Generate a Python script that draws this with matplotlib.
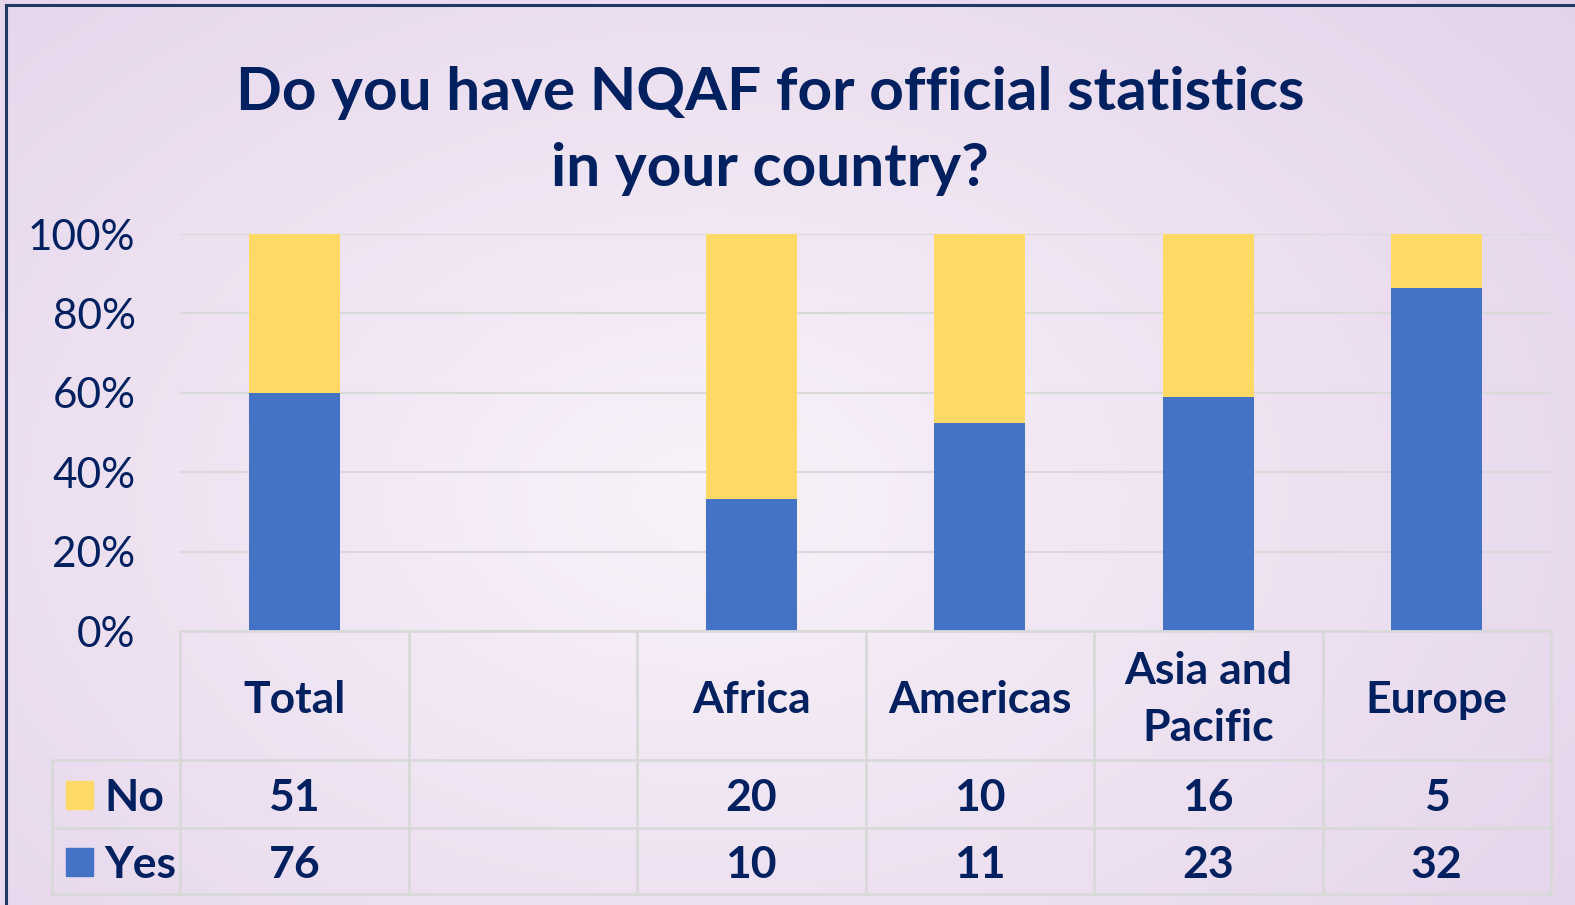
import numpy as np
import matplotlib
matplotlib.use('Agg')
from matplotlib import pyplot as plt
from matplotlib.lines import Line2D
from matplotlib.patches import Rectangle

# data
categories = ['Total', '', 'Africa', 'Americas', 'Asia and\nPacific', 'Europe']
no_counts = [51, None, 20, 10, 16, 5]
yes_counts = [76, None, 10, 11, 23, 32]
series_names = ['No', 'Yes']
y_ticks = [0, 20, 40, 60, 80, 100]

navy = '#002060'
yellow = '#FFD966'
blue = '#4472C4'
grid_c = '#D9D9D9'

plt.rcParams['font.family'] = ['Lato', 'DejaVu Sans']

W, H = 1575, 905
fig = plt.figure(figsize=(W / 100, H / 100), dpi=100)

# soft lavender background, lighter towards the middle
bg = fig.add_axes([0, 0, 1, 1], zorder=-10)
gx, gy = np.meshgrid(np.linspace(0, 1, 400), np.linspace(0, 1, 240))
r = np.sqrt(((gx - 0.45) / 0.75) ** 2 + ((gy - 0.55) / 0.9) ** 2)
r = np.clip(r, 0, 1)
c0 = np.array([0.975, 0.95, 0.98])
c1 = np.array([0.89, 0.82, 0.915])
img = c0 + (c1 - c0) * r[..., None]
bg.imshow(img, extent=[0, 1, 0, 1], aspect='auto', origin='upper')
bg.axis('off')

# frame lines (top and left)
fig.add_artist(Line2D([6 / W, 1], [1 - 5 / H, 1 - 5 / H], color='#1F3864', lw=2.2))
fig.add_artist(Line2D([6 / W, 6 / W], [0, 1 - 5 / H], color='#1F3864', lw=2.2))

fig.text(770 / W, 1 - 131 / H, 'Do you have NQAF for official statistics\nin your country?',
         ha='center', va='center', fontsize=43.5, fontweight='bold', color=navy,
         linespacing=1.5)

# plot area
x0, x1 = 180, 1551
top, bot = 234, 631
ax = fig.add_axes([x0 / W, 1 - bot / H, (x1 - x0) / W, (bot - top) / H])
ax.patch.set_alpha(0)

n = len(categories)
idx = np.arange(n)
no_arr = np.array([v if v is not None else 0 for v in no_counts], dtype=float)
yes_arr = np.array([v if v is not None else 0 for v in yes_counts], dtype=float)
tot = no_arr + yes_arr
tot[tot == 0] = np.nan
yes_pct = yes_arr / tot * 100
no_pct = no_arr / tot * 100

ax.bar(idx, yes_pct, width=0.4, color=blue, zorder=3)
ax.bar(idx, no_pct, width=0.4, bottom=yes_pct, color=yellow, zorder=3)

ax.set_xlim(-0.5, n - 0.5)
ax.set_ylim(0, 100)
ax.set_yticks(y_ticks)
ax.set_yticklabels([f'{t}%' for t in y_ticks])
ax.set_xticks([])
ax.tick_params(axis='y', length=0, pad=32, labelsize=30.5, labelcolor=navy)
for s in ax.spines.values():
    s.set_visible(False)
ax.yaxis.grid(True, color=grid_c, lw=1.5, zorder=0)
ax.set_axisbelow(True)

# data table under the bars
tl, tb = 52, 894
cw = (x1 - x0) / n
left_units = (x0 - tl) / cw
tax = fig.add_axes([tl / W, 1 - tb / H, (x1 - tl) / W, (tb - bot) / H])
tax.patch.set_alpha(0)
tax.set_xlim(-0.5 - left_units, n - 0.5)
tax.set_ylim(0, tb - bot)
tax.axis('off')

hdr_bot = tb - 760
row_h = tb - 828
lw_t = 2.0
# horizontal lines
tax.plot([-0.5, n - 0.5], [tb - bot, tb - bot], color=grid_c, lw=lw_t, clip_on=False)
for yy in [hdr_bot, row_h, 0]:
    tax.plot([-0.5 - left_units, n - 0.5], [yy, yy], color=grid_c, lw=lw_t, clip_on=False)
# vertical lines
for k in range(n + 1):
    tax.plot([k - 0.5, k - 0.5], [0, tb - bot], color=grid_c, lw=lw_t, clip_on=False)
tax.plot([-0.5 - left_units] * 2, [0, hdr_bot], color=grid_c, lw=lw_t, clip_on=False)

fs = 32
for i, cat in enumerate(categories):
    tax.text(i, (hdr_bot + tb - bot) / 2 - 4, cat, ha='center', va='center', fontsize=fs,
             fontweight='bold', color=navy, linespacing=1.5)
    for vals, yc in [(no_counts, (hdr_bot + row_h) / 2), (yes_counts, row_h / 2)]:
        if vals[i] is not None:
            tax.text(i, yc - 4, str(vals[i]), ha='center', va='center', fontsize=fs,
                     fontweight='bold', color=navy)

# legend keys in the row header
sq_w = 27 / cw
for name, col, yc in [(series_names[0], yellow, (hdr_bot + row_h) / 2),
                      (series_names[1], blue, row_h / 2)]:
    kx = -0.5 - left_units + (66 - tl) / cw
    tax.add_patch(Rectangle((kx, yc - 15), sq_w, 28, color=col, clip_on=False))
    tax.text(-0.5 - left_units + (104 - tl) / cw, yc - 4, name, ha='left', va='center',
             fontsize=fs, fontweight='bold', color=navy)

fig.savefig('out.png', dpi=100)
